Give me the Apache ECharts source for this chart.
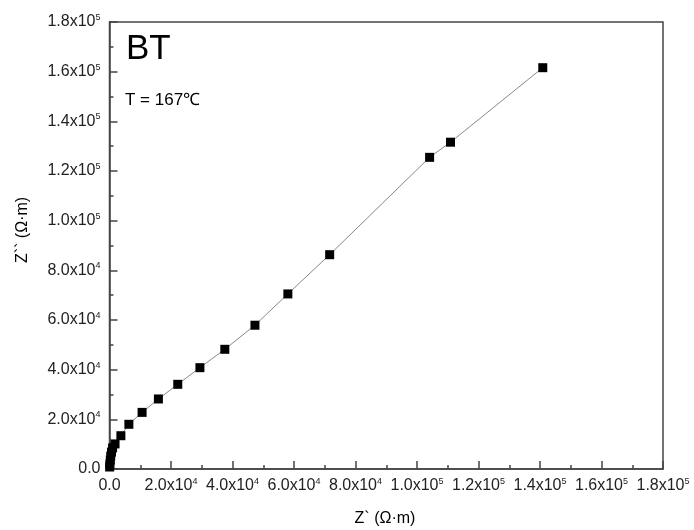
<!DOCTYPE html>
<html>
<head>
<meta charset="utf-8">
<script src="https://cdn.jsdelivr.net/npm/echarts@6/dist/echarts.min.js"></script>
<style>
html,body{margin:0;padding:0;background:#fff;}
#c{width:694px;height:530px;}
</style>
</head>
<body>
<div id="c"></div>
<script>
// Z' (real part), Ω·m
var zReal = [140900, 110900, 104100, 71600, 58000, 47300, 37500, 29400, 22200, 15900, 10600, 6300, 3700, 1800, 1000, 650, 400, 260, 130, 50];
// Z'' (imaginary part), Ω·m
var zImag = [161600, 131600, 125500, 86300, 70500, 57900, 48200, 40800, 34100, 28200, 22800, 18000, 13400, 10100, 8500, 6800, 5200, 3600, 2000, 800];
var xTicks = [0, 20000, 40000, 60000, 80000, 100000, 120000, 140000, 160000, 180000];
var yTicks = [0, 20000, 40000, 60000, 80000, 100000, 120000, 140000, 160000, 180000];
var titleText = 'BT';
var tempText = 'T = 167\u2103';
var xName = 'Z` (\u03A9\u00B7m)';
var yName = 'Z`` (\u03A9\u00B7m)';

var FONT = '"Liberation Sans", Arial, sans-serif';
function sci(v) {
  if (v === 0) return '{m|0.0}';
  var e = Math.floor(Math.log10(v) + 1e-9);
  var m = v / Math.pow(10, e);
  return '{m|' + m.toFixed(1) + 'x10}{e|' + e + '}';
}
var rich = {
  m: {fontSize: 16, fontFamily: FONT, color: '#222', lineHeight: 18},
  e: {fontSize: 9, fontFamily: FONT, color: '#222', verticalAlign: 'top', lineHeight: 9}
};
var pts = zReal.map(function (x, i) { return [x, zImag[i]]; });

var chart = echarts.init(document.getElementById('c'), null, {renderer: 'canvas'});
chart.setOption({
  animation: false,
  backgroundColor: '#fff',
  grid: {left: 109.5, top: 22, right: 31, bottom: 61, show: true, borderColor: '#444', borderWidth: 1.5, backgroundColor: 'transparent'},
  xAxis: {
    type: 'value', min: xTicks[0], max: xTicks[xTicks.length - 1], interval: xTicks[1] - xTicks[0],
    axisLine: {lineStyle: {color: '#444', width: 1.5}},
    axisTick: {inside: true, length: 8, lineStyle: {color: '#444', width: 1.5}},
    minorTick: {show: true, splitNumber: 2, length: 4, lineStyle: {color: '#444', width: 1.5}},
    splitLine: {show: false},
    axisLabel: {margin: 8, formatter: function (v) { return sci(v); }, rich: rich, showMinLabel: true, showMaxLabel: true}
  },
  yAxis: {
    type: 'value', min: yTicks[0], max: yTicks[yTicks.length - 1], interval: yTicks[1] - yTicks[0],
    axisLine: {lineStyle: {color: '#444', width: 1.5}},
    axisTick: {inside: true, length: 8, lineStyle: {color: '#444', width: 1.5}},
    minorTick: {show: true, splitNumber: 2, length: 4, lineStyle: {color: '#444', width: 1.5}},
    splitLine: {show: false},
    axisLabel: {margin: 9, formatter: function (v) { return sci(v); }, rich: rich, showMinLabel: true, showMaxLabel: true}
  },
  graphic: [
    {type: 'text', left: 126, top: 32, style: {text: titleText, font: '35px ' + FONT, fill: '#000'}},
    {type: 'text', left: 125, top: 92, style: {text: tempText, font: '17px ' + FONT, fill: '#000'}},
    {type: 'text', x: 385, y: 519, style: {text: xName, font: '16px ' + FONT, fill: '#000', align: 'center', verticalAlign: 'middle'}},
    {type: 'text', x: 23, y: 230, rotation: Math.PI / 2, style: {text: yName, font: '16px ' + FONT, fill: '#000', align: 'center', verticalAlign: 'middle'}}
  ],
  series: [{
    type: 'line', data: pts, symbol: 'rect', symbolSize: 9,
    itemStyle: {color: '#000'},
    lineStyle: {color: '#888', width: 1},
    z: 3
  }]
});
</script>
</body>
</html>
